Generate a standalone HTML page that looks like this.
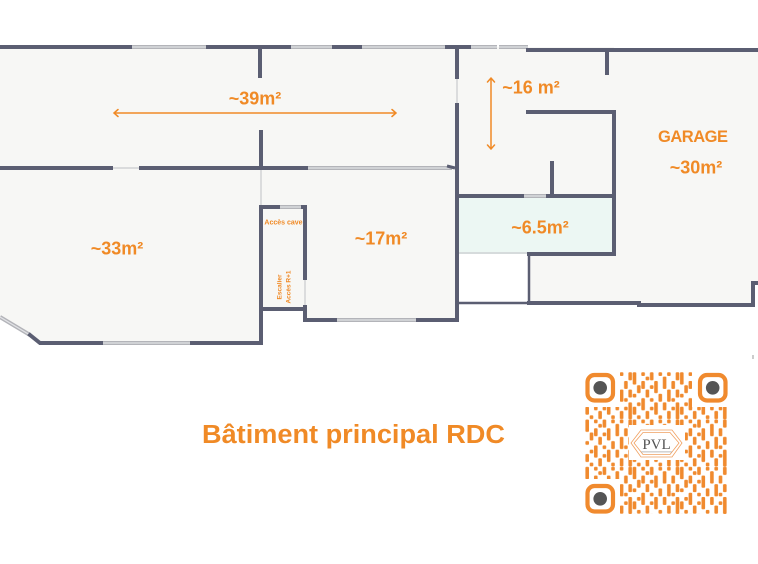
<!DOCTYPE html>
<html><head><meta charset="utf-8"><style>
html,body{margin:0;padding:0;background:#fff;}
svg{display:block;}
text{font-family:"Liberation Sans",sans-serif;font-weight:bold;fill:#f08a26;}
</style></head><body>
<svg width="758" height="564" viewBox="0 0 758 564" xmlns="http://www.w3.org/2000/svg">
<defs>
<pattern id="qr" x="585" y="372" width="47.3" height="47.3" patternUnits="userSpaceOnUse">
<g fill="#f08a2e">
<rect x="0.4" y="0.3" width="3.6" height="12.3" rx="1"/>
<rect x="0.4" y="21.8" width="3.6" height="3.7" rx="1"/>
<rect x="0.4" y="34.7" width="3.6" height="8" rx="1"/>
<rect x="4.7" y="13.2" width="3.6" height="8" rx="1"/>
<rect x="4.7" y="30.4" width="3.6" height="3.7" rx="1"/>
<rect x="4.7" y="43.3" width="3.6" height="3.7" rx="1"/>
<rect x="9.0" y="0.3" width="3.6" height="3.7" rx="1"/>
<rect x="9.0" y="8.9" width="3.6" height="8" rx="1"/>
<rect x="9.0" y="26.1" width="3.6" height="12.3" rx="1"/>
<rect x="13.3" y="4.6" width="3.6" height="3.7" rx="1"/>
<rect x="13.3" y="17.5" width="3.6" height="8" rx="1"/>
<rect x="13.3" y="39" width="3.6" height="8" rx="1"/>
<rect x="17.6" y="0.3" width="3.6" height="8" rx="1"/>
<rect x="17.6" y="13.2" width="3.6" height="3.7" rx="1"/>
<rect x="17.6" y="26.1" width="3.6" height="3.7" rx="1"/>
<rect x="17.6" y="34.7" width="3.6" height="3.7" rx="1"/>
<rect x="21.9" y="8.9" width="3.6" height="12.3" rx="1"/>
<rect x="21.9" y="30.4" width="3.6" height="12.3" rx="1"/>
<rect x="26.2" y="0.3" width="3.6" height="3.7" rx="1"/>
<rect x="26.2" y="21.8" width="3.6" height="8" rx="1"/>
<rect x="26.2" y="43.3" width="3.6" height="3.7" rx="1"/>
<rect x="30.5" y="4.6" width="3.6" height="12.3" rx="1"/>
<rect x="30.5" y="30.4" width="3.6" height="8" rx="1"/>
<rect x="34.8" y="0.3" width="3.6" height="3.7" rx="1"/>
<rect x="34.8" y="17.5" width="3.6" height="12.3" rx="1"/>
<rect x="34.8" y="39" width="3.6" height="8" rx="1"/>
<rect x="39.1" y="8.9" width="3.6" height="8" rx="1"/>
<rect x="39.1" y="26.1" width="3.6" height="3.7" rx="1"/>
<rect x="39.1" y="34.7" width="3.6" height="3.7" rx="1"/>
<rect x="43.4" y="0.3" width="3.6" height="8" rx="1"/>
<rect x="43.4" y="17.5" width="3.6" height="8" rx="1"/>
<rect x="43.4" y="30.4" width="3.6" height="16.9" rx="1"/>
</g>
</pattern>
</defs>

<!-- floor fills -->
<g fill="#f7f7f5">
<rect x="0" y="47" width="457" height="121"/>
<polygon points="0,168 261,168 261,343 40,343 0,317"/>
<polygon points="261,168 457,168 457,320 305,320 305,309 261,309"/>
<rect x="457" y="47" width="157" height="149"/>
<rect x="528" y="50" width="230" height="254"/>
</g>
<rect x="753" y="285" width="6" height="22" fill="#fff"/>
<rect x="457" y="196" width="157" height="58" fill="#ecf7f3"/>
<rect x="459" y="255" width="69" height="47" fill="#fff"/>

<!-- windows -->
<g stroke="#b3b4b9" stroke-width="4" fill="none">
<path d="M130 47H208M289 47H334M360 47H447M469 47H497M499 47H528"/>
<path d="M306 168H452M335 320H418M101 343H192M522 196H548M278 207H303"/>
<path d="M0 317L30 335"/>
</g>
<g stroke="#e2e3e6" stroke-width="1.2" fill="none">
<path d="M130 47H208M289 47H334M360 47H447M469 47H497M499 47H528"/>
<path d="M306 168H452M335 320H418M101 343H192M522 196H548M278 207H303"/>
<path d="M0 317L30 335"/>
</g>
<!-- doors (thin light) -->
<g stroke="#c9cacd" stroke-width="1.2" fill="none">
<path d="M111 168H141M457 77V105M261 168V207M305 278V307M457 253H529"/>
</g>

<!-- walls -->
<g stroke="#5b5e72" stroke-width="4" fill="none" stroke-linecap="square">
<path d="M0 47H130M208 47H289M334 47H360M447 47H469"/>
<path d="M528 50H758"/>
<path d="M260 49V76M261 132V168M607 50V73"/>
<path d="M457 47V77M457 105V320"/>
<path d="M0 168H111M141 168H306"/>
<path d="M528 112H614V254H529"/>
<path d="M552 163V196M457 196H522M548 196H614"/>
<path d="M529 303H639M639 305H753V283H758"/>
<path d="M305 320H335M418 320H457"/>
<path d="M305 207V278M305 307V320"/>
<path d="M261 207H278M303 207H305"/>
<path d="M261 309H305M261 207V343"/>
<path d="M30 335L40 343H101M192 343H261"/>
</g>
<path d="M529 254V303M457 303H529" stroke="#5b5e72" stroke-width="2.5" fill="none"/>
<path d="M447 166L455 168" stroke="#5b5e72" stroke-width="3"/>
<rect x="752" y="355" width="2" height="4" fill="#ccc"/>

<!-- dimension arrows -->
<g stroke="#f08a26" stroke-width="1.5" fill="none" stroke-linecap="round">
<path d="M114 113H396M118 109.5L114 113L118 116.5M392 109.5L396 113L392 116.5"/>
<path d="M491 78V149M487.5 82L491 78L494.5 82M487.5 145L491 149L494.5 145"/>
</g>

<!-- labels -->
<text x="255" y="104.5" font-size="18" text-anchor="middle">~39m²</text>
<text x="531" y="93.5" font-size="18" text-anchor="middle">~16 m²</text>
<text x="693" y="142" font-size="16.5" text-anchor="middle" textLength="70">GARAGE</text>
<text x="696" y="173.5" font-size="18" text-anchor="middle">~30m²</text>
<text x="117" y="254.5" font-size="18" text-anchor="middle">~33m²</text>
<text x="381" y="244.5" font-size="18" text-anchor="middle">~17m²</text>
<text x="540" y="233.5" font-size="18" text-anchor="middle">~6.5m²</text>
<text x="283.5" y="224.5" font-size="7" text-anchor="middle">Accès cave</text>
<text transform="translate(281.5,287) rotate(-90)" font-size="6.5" text-anchor="middle">Escalier</text>
<text transform="translate(290.5,287) rotate(-90)" font-size="6.5" text-anchor="middle">Accès R+1</text>
<text x="202" y="443" font-size="25.5" textLength="303" lengthAdjust="spacingAndGlyphs">Bâtiment principal RDC</text>

<!-- QR code -->
<rect x="585" y="372" width="142" height="142" fill="url(#qr)"/>
<g fill="#fff">
<rect x="583" y="370" width="37" height="37"/>
<rect x="692" y="370" width="37" height="37"/>
<rect x="583" y="479" width="37" height="37"/>
<rect x="629" y="425" width="56" height="35"/>
</g>
<g fill="none" stroke="#f08a2e" stroke-width="4.2">
<rect x="587.5" y="375" width="25.5" height="25.5" rx="7"/>
<rect x="700" y="375" width="25.5" height="25.5" rx="7"/>
<rect x="587.5" y="486" width="25.5" height="25.5" rx="7"/>
</g>
<g fill="#555">
<circle cx="600.2" cy="387.8" r="6.8"/>
<circle cx="712.7" cy="387.8" r="6.8"/>
<circle cx="600.2" cy="498.8" r="6.8"/>
</g>
<g fill="none" stroke="#f0a060" stroke-width="0.8">
<polygon points="631,443 641,430 672,430 682,443 672,457 641,457"/>
<polygon points="634,443 643,432.5 670,432.5 679,443 670,454.5 643,454.5"/>
</g>
<text x="656.5" y="449" font-size="15" text-anchor="middle" style="font-family:'Liberation Serif',serif;font-weight:normal;fill:#555">PVL</text>
<rect x="641" y="451.5" width="31" height="0.8" fill="#aaa"/>
</svg>
</body></html>
